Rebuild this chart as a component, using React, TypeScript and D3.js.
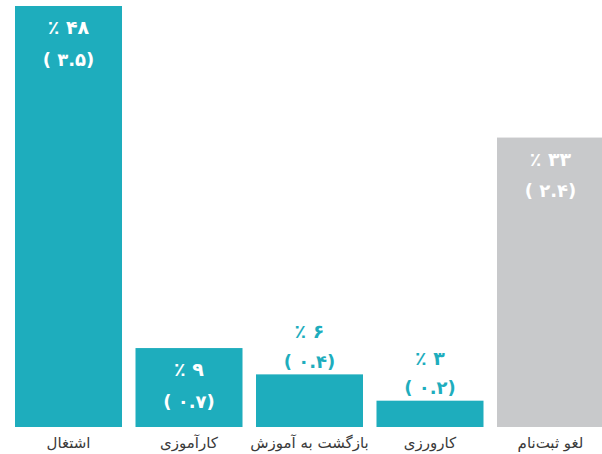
import React, { useEffect, useRef } from "react";
import * as d3 from "d3";

const categories = ["اشتغال", "کارآموزی", "بازگشت به آموزش", "کارورزی", "لغو ثبت‌نام"];
const percents = [48, 9, 6, 3, 33];
const counts = [3.5, 0.7, 0.4, 0.2, 2.4];

const toFa = (v: number | string) =>
  String(v).replace(/[0-9]/g, (c) => "۰۱۲۳۴۵۶۷۸۹"[+c]);

const W = 602;
const H = 454;

const App: React.FC = () => {
  const svgRef = useRef<SVGSVGElement | null>(null);

  useEffect(() => {
    if (!svgRef.current) return;
    const svg = d3.select(svgRef.current);
    svg.selectAll("*").remove();

    const baseY = 427;
    const data = categories.map((label, i) => ({ label, pct: percents[i], count: counts[i] }));

    const x = d3
      .scaleBand<string>()
      .domain(categories)
      .range([15, 604])
      .paddingInner(0.112)
      .paddingOuter(0);

    const y = d3.scaleLinear().domain([0, 48]).range([baseY, 6]);

    const teal = "#1eadbd";
    const gray = "#c8c9cb";
    const isCancel = (d: { label: string }) => d.label === "لغو ثبت‌نام";

    svg
      .selectAll("rect.bar")
      .data(data)
      .enter()
      .append("rect")
      .attr("class", "bar")
      .attr("x", (d) => x(d.label)!)
      .attr("y", (d) => y(d.pct))
      .attr("width", x.bandwidth())
      .attr("height", (d) => baseY - y(d.pct))
      .attr("fill", (d) => (isCancel(d) ? gray : teal));

    const font = "'DejaVu Sans', sans-serif";

    data.forEach((d) => {
      const cx = x(d.label)! + x.bandwidth() / 2;
      const top = y(d.pct);
      const inside = baseY - top > 60;
      const y1 = inside ? top + 21 : top - 43;
      const y2 = inside ? top + 53 : top - 13;
      const fill = inside ? "#ffffff" : teal;
      const g = svg.append("g").attr("font-family", font).attr("font-weight", "bold").attr("fill", fill);
      g.append("text")
        .attr("x", cx)
        .attr("y", y1)
        .attr("text-anchor", "middle")
        .attr("dominant-baseline", "central")
        .attr("font-size", 19)
        .attr("letter-spacing", 1)
        .text(`٪ ${toFa(d.pct)}`);
      g.append("text")
        .attr("x", cx)
        .attr("y", y2)
        .attr("text-anchor", "middle")
        .attr("dominant-baseline", "central")
        .attr("font-size", 18)
        .attr("letter-spacing", 1)
        .text(`( ${toFa(d.count)})`);
    });

    svg
      .selectAll("text.cat")
      .data(data)
      .enter()
      .append("text")
      .attr("class", "cat")
      .attr("x", (d) => x(d.label)! + x.bandwidth() / 2)
      .attr("y", 443)
      .attr("text-anchor", "middle")
      .attr("dominant-baseline", "central")
      .attr("direction", "rtl")
      .attr("font-family", font)
      .attr("font-size", 15)
      .attr("fill", "#3a3a3a")
      .text((d) => d.label);
  }, []);

  return (
    <div style={{ position: "absolute", left: 0, top: 0 }}>
      <svg ref={svgRef} width={W} height={H} style={{ display: "block", background: "#fff" }}></svg>
    </div>
  );
};

export default App;
